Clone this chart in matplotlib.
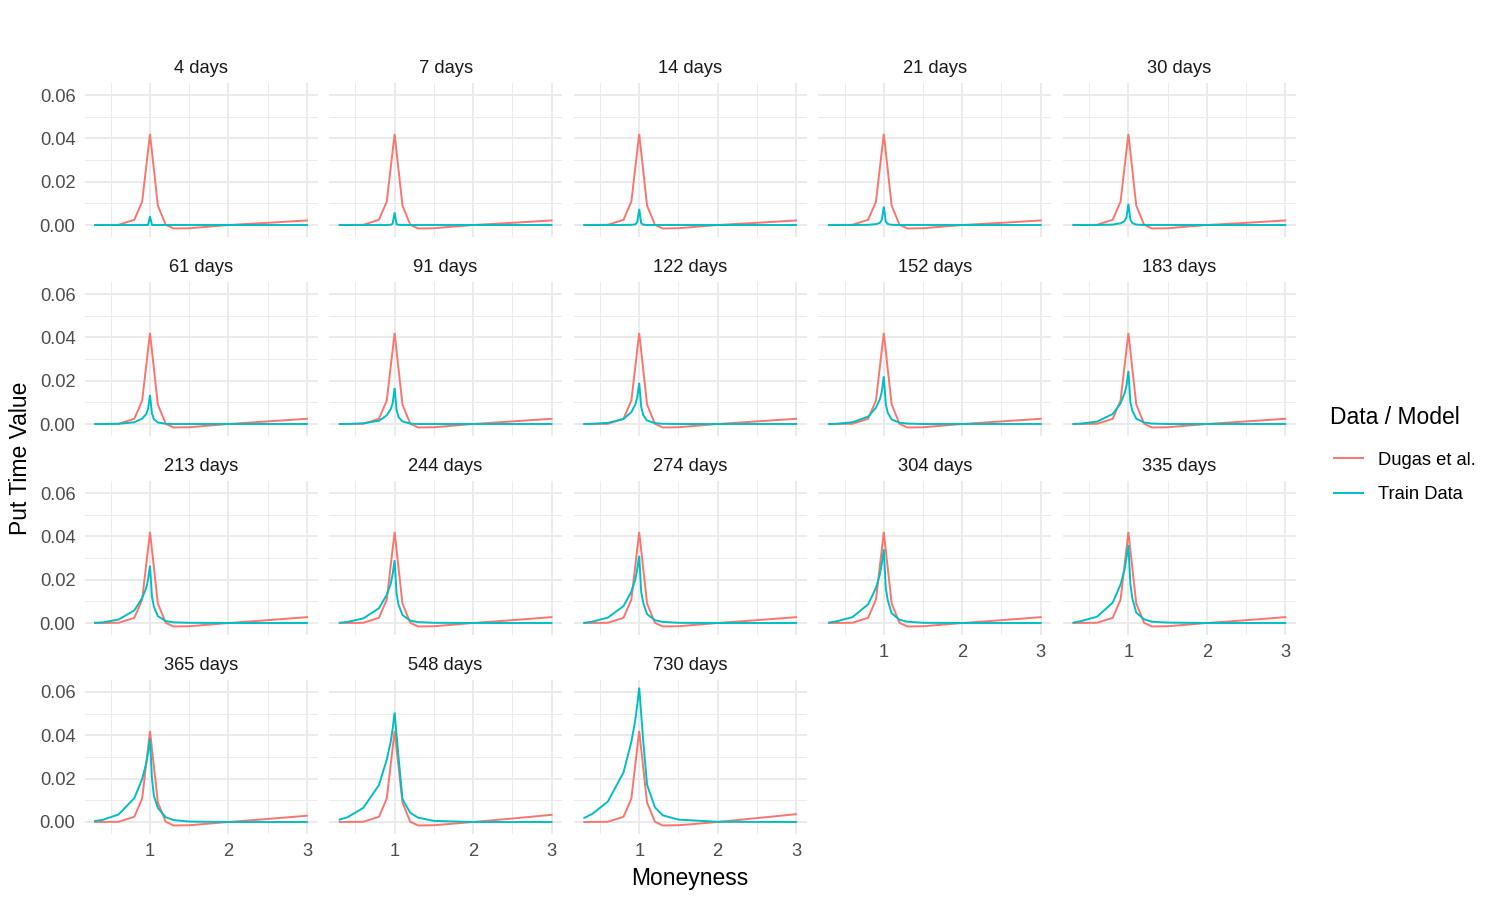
import numpy as np
import matplotlib
matplotlib.use("Agg")
import matplotlib.pyplot as plt
from matplotlib.lines import Line2D
from matplotlib.ticker import FixedLocator

plt.rcParams['font.family'] = ['Liberation Sans', 'DejaVu Sans']

maturities = ["4 days", "7 days", "14 days", "21 days", "30 days",
              "61 days", "91 days", "122 days", "152 days", "183 days",
              "213 days", "244 days", "274 days", "304 days", "335 days",
              "365 days", "548 days", "730 days"]

# Dugas et al. model curve (moneyness grid + values, tail varies a bit)
dugas_x = [0.3, 0.6, 0.8, 0.9, 1.0, 1.1, 1.2, 1.3, 1.5, 2.0, 2.5, 3.0]
dugas_core = [0.0, 0.0001, 0.0024, 0.0108, 0.0420, 0.0090, 0.0001, -0.0016, -0.0015, 0.0000]
dugas_at_2_5 = [0.0010, 0.0010, 0.0010, 0.0010, 0.0010,
                0.0012, 0.0012, 0.0012, 0.0012, 0.0012,
                0.0013, 0.0013, 0.0013, 0.0013, 0.0013,
                0.0014, 0.0016, 0.0018]
dugas_at_3 = [0.0021, 0.0021, 0.0021, 0.0021, 0.0021,
              0.0024, 0.0024, 0.0024, 0.0024, 0.0024,
              0.0027, 0.0027, 0.0027, 0.0027, 0.0027,
              0.0029, 0.0033, 0.0036]

# training data curve
train_x = [0.3, 0.4, 0.6, 0.8, 0.9, 0.95, 0.975, 1.0, 1.025, 1.05, 1.1, 1.2, 1.3, 1.5, 2.0, 3.0]
train_vals = [
    [0, 0, 0, 0, 0, 0, 0, 0.0040, 0, 0, 0, 0, 0, 0, 0, 0],
    [0, 0, 0, 0, 0, 0.0001, 0.0006, 0.0058, 0.0003, 0.0001, 0, 0, 0, 0, 0, 0],
    [0, 0, 0, 0, 0.0001, 0.0003, 0.0013, 0.0074, 0.0009, 0.0002, 0, 0, 0, 0, 0, 0],
    [0, 0, 0, 0.0001, 0.0004, 0.0010, 0.0024, 0.0085, 0.0016, 0.0005, 0.0001, 0, 0, 0, 0, 0],
    [0, 0, 0, 0.0002, 0.0008, 0.0018, 0.0035, 0.0098, 0.0025, 0.0009, 0.0002, 0, 0, 0, 0, 0],
    [0, 0, 0.0001, 0.0008, 0.0025, 0.0045, 0.0068, 0.0134, 0.0048, 0.0022, 0.0007, 0.0001, 0, 0, 0, 0],
    [0, 0, 0.0003, 0.0015, 0.0040, 0.0068, 0.0095, 0.0166, 0.0065, 0.0032, 0.0012, 0.0002, 0, 0, 0, 0],
    [0, 0.0001, 0.0005, 0.0023, 0.0055, 0.0090, 0.0122, 0.0190, 0.0080, 0.0042, 0.0016, 0.0004, 0.0001, 0, 0, 0],
    [0, 0.0001, 0.0008, 0.0034, 0.0075, 0.0115, 0.0150, 0.0220, 0.0092, 0.0052, 0.0021, 0.0006, 0.0002, 0, 0, 0],
    [0, 0.0002, 0.0011, 0.0046, 0.0095, 0.0140, 0.0175, 0.0245, 0.0100, 0.0062, 0.0025, 0.0007, 0.0002, 0, 0, 0],
    [0.0001, 0.0003, 0.0016, 0.0058, 0.0115, 0.0160, 0.0200, 0.0265, 0.0120, 0.0075, 0.0032, 0.0009, 0.0003, 0.0001, 0, 0],
    [0.0001, 0.0005, 0.0021, 0.0068, 0.0130, 0.0180, 0.0225, 0.0290, 0.0135, 0.0085, 0.0037, 0.0011, 0.0004, 0.0001, 0, 0],
    [0.0001, 0.0006, 0.0025, 0.0078, 0.0145, 0.0200, 0.0250, 0.0310, 0.0145, 0.0095, 0.0041, 0.0013, 0.0005, 0.0001, 0, 0],
    [0.0002, 0.0008, 0.0027, 0.0086, 0.0162, 0.0225, 0.0275, 0.0340, 0.0160, 0.0105, 0.0045, 0.0015, 0.0006, 0.0001, 0, 0],
    [0.0002, 0.0009, 0.0029, 0.0094, 0.0178, 0.0245, 0.0300, 0.0360, 0.0180, 0.0114, 0.0048, 0.0017, 0.0006, 0.0002, 0, 0],
    [0.0005, 0.0010, 0.0035, 0.0110, 0.0198, 0.0270, 0.0320, 0.0385, 0.0200, 0.0120, 0.0065, 0.0022, 0.0009, 0.0002, 0, 0],
    [0.0011, 0.0022, 0.0065, 0.0170, 0.0288, 0.0370, 0.0430, 0.0505, 0.0400, 0.0300, 0.0106, 0.0042, 0.0020, 0.0005, 0, 0],
    [0.0019, 0.0037, 0.0094, 0.0229, 0.0370, 0.0470, 0.0540, 0.0620, 0.0500, 0.0380, 0.0172, 0.0068, 0.0031, 0.0011, 0.0001, 0],
]

red = "#F8766D"
teal = "#00BFC4"
grid_col = "#EBEBEB"
tick_col = "#4D4D4D"

W, H = 1500, 900
fig = plt.figure(figsize=(15, 9), dpi=100)

ncol = 5
pan_w, pan_h = 233, 153.4
x0, dx = 84.5, 244.6
y0, dy = 83.3, 199.0

ymin, ymax = -0.0054, 0.0654
xmin, xmax = 0.165, 3.135

for k, name in enumerate(maturities):
    r, c = divmod(k, ncol)
    left = x0 + c * dx
    top = y0 + r * dy
    ax = fig.add_axes([left / W, 1 - (top + pan_h) / H, pan_w / W, pan_h / H])

    dvals = dugas_core + [dugas_at_2_5[k], dugas_at_3[k]]
    ax.plot(dugas_x, dvals, color=red, lw=1.4, solid_joinstyle='miter')
    ax.plot(train_x, train_vals[k], color=teal, lw=1.4, solid_joinstyle='miter')

    ax.set_xlim(xmin, xmax)
    ax.set_ylim(ymin, ymax)
    ax.xaxis.set_major_locator(FixedLocator([1, 2, 3]))
    ax.xaxis.set_minor_locator(FixedLocator([0.5, 1.5, 2.5]))
    ax.yaxis.set_major_locator(FixedLocator([0, 0.02, 0.04, 0.06]))
    ax.yaxis.set_minor_locator(FixedLocator([0.01, 0.03, 0.05]))
    ax.grid(which='major', color=grid_col, lw=1.4)
    ax.grid(which='minor', color=grid_col, lw=0.7)
    ax.set_axisbelow(True)
    for s in ax.spines.values():
        s.set_visible(False)
    ax.tick_params(which='both', length=0, labelsize=13.2, labelcolor=tick_col)
    ax.tick_params(axis='y', pad=6.5)
    ax.tick_params(axis='x', pad=6.5)

    if c == 0:
        ax.set_yticklabels(["0.00", "0.02", "0.04", "0.06"])
    else:
        ax.set_yticklabels([])
    # bottom panel of each column gets x labels
    if k + ncol >= len(maturities):
        ax.set_xticklabels(["1", "2", "3"])
    else:
        ax.set_xticklabels([])

    ax.text(0.5, 1 + 15.0 / pan_h, name, transform=ax.transAxes,
            ha='center', va='center', fontsize=13.2, color="#1A1A1A")

fig.text(21 / W, 1 - 458 / H, "Put Time Value", rotation=90,
         ha='center', va='center', fontsize=16.5)
fig.text(690 / W, 1 - 878 / H, "Moneyness", ha='center', va='center', fontsize=16.5)

fig.text(1330 / W, 1 - 417 / H, "Data / Model", ha='left', va='center', fontsize=16.5)
handles = [Line2D([], [], color=red, lw=1.4), Line2D([], [], color=teal, lw=1.4)]
leg = fig.legend(handles, ["Dugas et al.", "Train Data"],
                 loc='upper left', bbox_to_anchor=(1317 / W, 1 - 435 / H),
                 frameon=False, fontsize=13.2,
                 handlelength=1.6, handletextpad=0.85, labelspacing=0.95)

fig.savefig("out.png", dpi=100)
